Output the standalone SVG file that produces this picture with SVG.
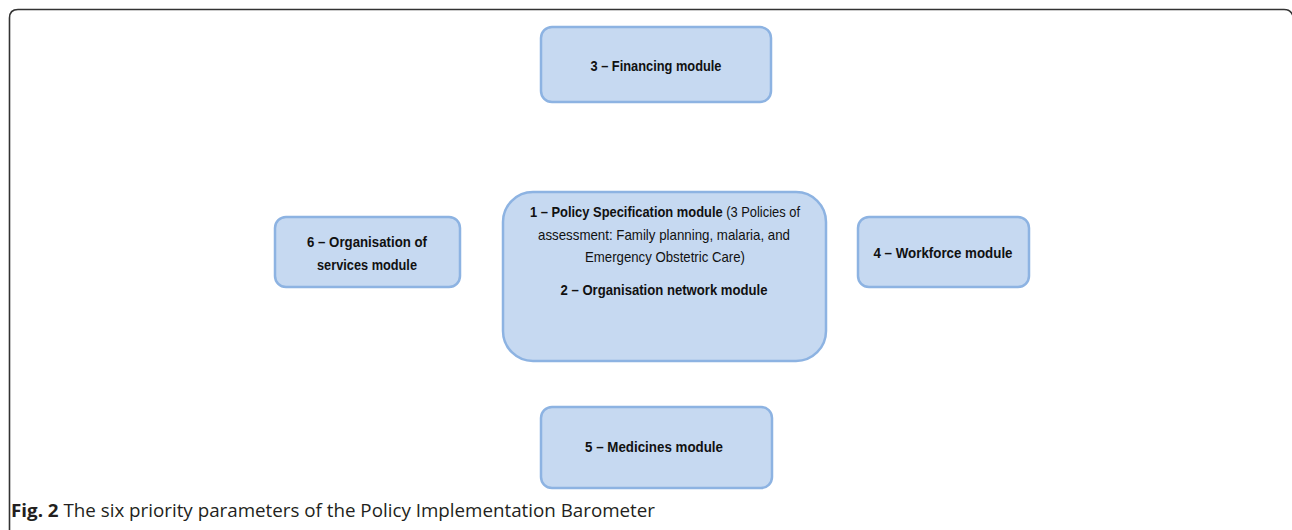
<svg xmlns="http://www.w3.org/2000/svg" width="1292" height="530" viewBox="0 0 1292 530">
<style>
.box{fill:#c6d9f1;stroke:#8db3e2;stroke-width:2.5}
.t{font-family:"Liberation Sans",Arial,sans-serif;font-size:15px;fill:#111;text-anchor:middle}
.s{text-anchor:start}
.b{font-weight:bold}
.cap{font-family:"Open Sans","DejaVu Sans",sans-serif;font-size:18.5px;fill:#231f20}
</style>
<rect width="1292" height="530" fill="#fff"/>
<path d="M9.5 530 V18 Q9.5 9.5 18 9.5 H1284 Q1291 9.5 1293 16" fill="none" stroke="#333" stroke-width="1.6"/>
<g id="financing">
<rect class="box" x="541" y="27" width="230" height="75" rx="11"/>
<text class="t b" x="656" y="71" textLength="131" lengthAdjust="spacingAndGlyphs">3 – Financing module</text>
</g>
<g id="policy">
<rect class="box" x="503" y="192" width="323" height="169" rx="30"/>
<text class="t" x="665" y="217" textLength="270" lengthAdjust="spacingAndGlyphs"><tspan class="b">1 – Policy Specification module</tspan> (3 Policies of</text>
<text class="t" x="664" y="240" textLength="252" lengthAdjust="spacingAndGlyphs">assessment: Family planning, malaria, and</text>
<text class="t" x="665" y="262" textLength="160" lengthAdjust="spacingAndGlyphs">Emergency Obstetric Care)</text>
<text class="t b" x="664" y="295" textLength="207" lengthAdjust="spacingAndGlyphs">2 – Organisation network module</text>
</g>
<g id="organisation">
<rect class="box" x="275" y="217" width="185" height="70" rx="11"/>
<text class="t b" x="367" y="247" textLength="120" lengthAdjust="spacingAndGlyphs">6 – Organisation of</text>
<text class="t b" x="367" y="270" textLength="100" lengthAdjust="spacingAndGlyphs">services module</text>
</g>
<g id="workforce">
<rect class="box" x="858" y="217" width="171" height="70" rx="11"/>
<text class="t b" x="943" y="258" textLength="139" lengthAdjust="spacingAndGlyphs">4 – Workforce module</text>
</g>
<g id="medicines">
<rect class="box" x="541" y="407" width="231" height="81" rx="11"/>
<text class="t b" x="654" y="452" textLength="138" lengthAdjust="spacingAndGlyphs">5 – Medicines module</text>
</g>
<g id="connectors"></g>
<text class="cap" x="11" y="517" textLength="644" lengthAdjust="spacingAndGlyphs"><tspan font-weight="bold">Fig. 2</tspan> The six priority parameters of the Policy Implementation Barometer</text>
</svg>
